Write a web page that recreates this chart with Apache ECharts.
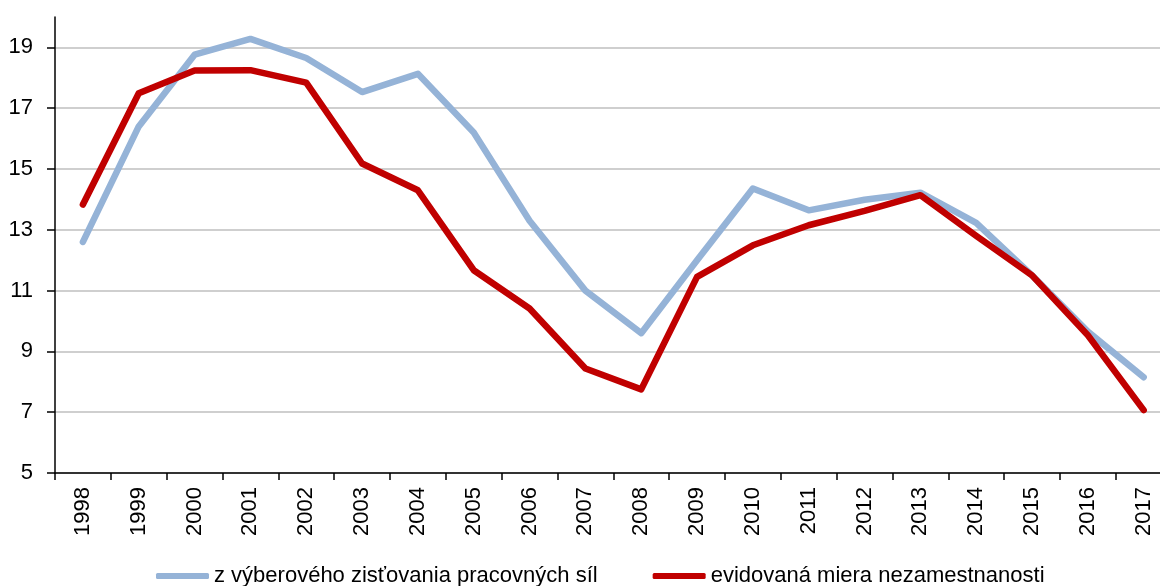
<!DOCTYPE html>
<html>
<head>
<meta charset="utf-8">
<script src="https://cdn.jsdelivr.net/npm/echarts@6/dist/echarts.min.js"></script>
<style>
html,body{margin:0;padding:0;background:#fff;}
#c{width:1160px;height:586px;}
</style>
</head>
<body>
<div id="c"></div>
<script>
const years = ['1998','1999','2000','2001','2002','2003','2004','2005','2006','2007','2008','2009','2010','2011','2012','2013','2014','2015','2016','2017'];
const surveyName = 'z výberového zisťovania pracovných síl';
const surveyValues = [12.6,16.4,18.76,19.28,18.65,17.53,18.13,16.2,13.3,11.0,9.6,12.0,14.36,13.64,13.99,14.22,13.23,11.5,9.65,8.15];
const registeredName = 'evidovaná miera nezamestnanosti';
const registeredValues = [13.83,17.49,18.24,18.25,17.84,15.18,14.3,11.67,10.41,8.44,7.75,11.45,12.49,13.15,13.62,14.14,12.8,11.5,9.53,7.07];
const yTicks = [5,7,9,11,13,15,17,19];

const FONT = 'Liberation Sans';
const chart = echarts.init(document.getElementById('c'));
chart.setOption({
  animation: false,
  backgroundColor: '#ffffff',
  grid: { left: 55, top: 17, right: -11.6, bottom: 113, containLabel: false, outerBoundsMode: 'none' },
  legend: {
    left: 151, top: 560,
    icon: 'roundRect',
    itemWidth: 53, itemHeight: 6, itemGap: 55,
    textStyle: { fontFamily: FONT, fontSize: 22, color: '#000' },
    data: [surveyName, registeredName]
  },
  xAxis: {
    type: 'category',
    data: years,
    boundaryGap: true,
    axisLine: { lineStyle: { color: '#000', width: 1.5 } },
    axisTick: { show: true, interval: 0, length: 7, lineStyle: { color: '#000', width: 1.5 } },
    axisLabel: { interval: 0, rotate: 90, margin: 14, fontFamily: FONT, fontSize: 22, color: '#000' },
    splitLine: { show: false }
  },
  yAxis: {
    type: 'value',
    min: 5, max: 20,
    axisLine: { show: true, lineStyle: { color: '#000', width: 1.5 } },
    axisTick: { show: true, length: 8, customValues: yTicks, lineStyle: { color: '#000', width: 1.5 } },
    axisLabel: { customValues: yTicks, margin: 22, fontFamily: FONT, fontSize: 22, color: '#000' },
    splitLine: { show: true, lineStyle: { color: '#BFBFBF', width: 1.5 } }
  },
  series: [
    { name: surveyName, type: 'line', data: surveyValues, symbol: 'none',
      lineStyle: { color: '#95B3D7', width: 6.5, cap: 'round', join: 'round' }, itemStyle: { color: '#95B3D7' } },
    { name: registeredName, type: 'line', data: registeredValues, symbol: 'none',
      lineStyle: { color: '#C00000', width: 6.5, cap: 'round', join: 'round' }, itemStyle: { color: '#C00000' } }
  ]
});
</script>
</body>
</html>
